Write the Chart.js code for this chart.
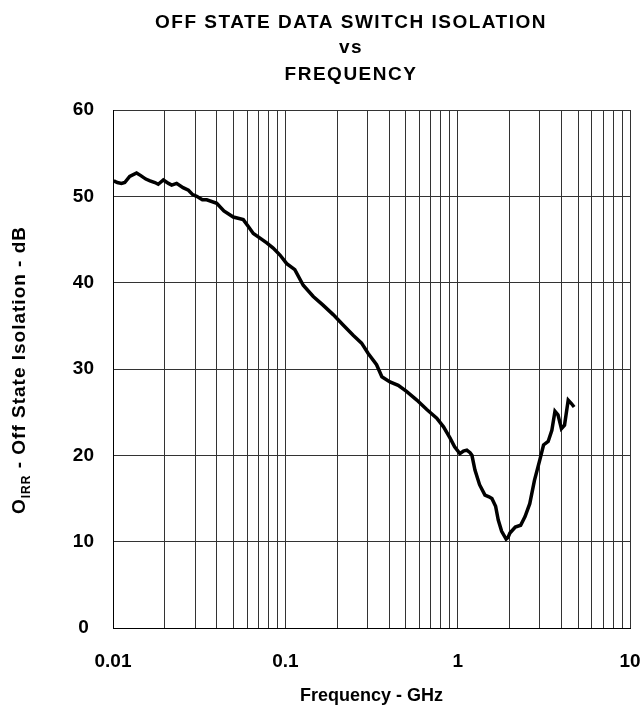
<!DOCTYPE html>
<html>
<head>
<meta charset="utf-8">
<title>Off State Data Switch Isolation vs Frequency</title>
<script src="https://cdn.jsdelivr.net/npm/chart.js@4.4.1/dist/chart.umd.min.js"></script>
<style>
    html, body { margin: 0; padding: 0; background: #ffffff; }
    #wrap { width: 642px; height: 710px; }
</style>
</head>
<body>
<div id="wrap"><canvas id="isoChart" width="642" height="710"></canvas></div>
<script>
(function () {
    'use strict';

    // ============================================================
    // DATA
    // ============================================================
    const freqGHz = [
        0.0101, 0.0106, 0.0112, 0.0117, 0.0125, 0.0137, 0.0145, 0.0155, 0.0164, 0.0175,
        0.0183, 0.0196, 0.0210, 0.0219, 0.0234, 0.0255, 0.0274, 0.0290, 0.0306, 0.0330,
        0.0350, 0.0400, 0.0440, 0.0499, 0.0570, 0.0610, 0.0652, 0.0720, 0.0780, 0.0850,
        0.0931, 0.1019, 0.1135, 0.127, 0.1452, 0.1655, 0.1895, 0.2165, 0.2475, 0.2770,
        0.3026, 0.3384, 0.3631, 0.4046, 0.4519, 0.5048, 0.5795, 0.6618, 0.7561, 0.8277,
        0.9038, 0.96, 1.03, 1.08, 1.13, 1.18, 1.21, 1.26, 1.34, 1.44,
        1.52, 1.58, 1.66, 1.72, 1.80, 1.91, 1.96, 2.01, 2.16, 2.32,
        2.46, 2.62, 2.79, 3.00, 3.15, 3.35, 3.52, 3.67, 3.82, 4.0,
        4.17, 4.38, 4.57, 4.74
    ];
    const isolationDb = [
        51.8, 51.6, 51.5, 51.6, 52.3, 52.7, 52.4, 52.0, 51.8, 51.6,
        51.4, 51.9, 51.5, 51.3, 51.5, 51.0, 50.7, 50.2, 50.0, 49.6,
        49.6, 49.2, 48.3, 47.6, 47.3, 46.5, 45.7, 45.1, 44.6, 44.0,
        43.2, 42.2, 41.5, 39.7, 38.4, 37.4, 36.3, 35.1, 33.9, 33.0,
        31.8, 30.5, 29.1, 28.5, 28.1, 27.4, 26.4, 25.3, 24.3, 23.3,
        22.0, 21.0, 20.2, 20.5, 20.6, 20.3, 20.0, 18.3, 16.6, 15.4,
        15.2, 15.0, 14.1, 12.5, 11.2, 10.3, 10.5, 11.0, 11.7, 11.9,
        12.9, 14.4, 17.1, 19.5, 21.2, 21.6, 22.9, 25.1, 24.7, 23.1,
        23.5, 26.4, 26.0, 25.6
    ];

    const xGridTicks = [
        0.01, 0.02, 0.03, 0.04, 0.05, 0.06, 0.07, 0.08, 0.09,
        0.1, 0.2, 0.3, 0.4, 0.5, 0.6, 0.7, 0.8, 0.9,
        1, 2, 3, 4, 5, 6, 7, 8, 9, 10
    ];
    const xTickLabels = { 0.01: '0.01', 0.1: '0.1', 1: '1', 10: '10' };
    const yTicks = [0, 10, 20, 30, 40, 50, 60];

    const titleLines = ['OFF STATE DATA SWITCH ISOLATION', 'vs', 'FREQUENCY'];
    const xTitle = 'Frequency - GHz';

    // ============================================================
    // STYLE
    // ============================================================
    const FONT = '"Liberation Sans", Arial, Helvetica, sans-serif';
    const GRID = '#333333';

    // ============================================================
    // PLUGIN: titles (incl. subscript on y label)
    // ============================================================
    const textPlugin = {
        id: 'textPlugin',
        afterDraw(chart) {
            const ctx = chart.ctx;
            const area = chart.chartArea;
            ctx.save();
            ctx.fillStyle = '#000';
            ctx.textAlign = 'center';
            ctx.textBaseline = 'alphabetic';

            // main title
            ctx.font = 'bold 19px ' + FONT;
            ctx.letterSpacing = '1.5px';
            const titleY = [28, 53, 80];
            titleLines.forEach((line, i) => ctx.fillText(line, 351, titleY[i]));

            // x axis title
            ctx.letterSpacing = '0px';
            ctx.font = 'bold 18px ' + FONT;
            ctx.fillText(xTitle, (area.left + area.right) / 2, 701);

            // y axis title: O + subscript IRR + rest
            ctx.letterSpacing = '1px';
            ctx.translate(25, 370);
            ctx.rotate(-Math.PI / 2);
            ctx.textAlign = 'left';
            const big = 'bold 19px ' + FONT;
            const small = 'bold 12px ' + FONT;
            ctx.font = big;
            const wO = ctx.measureText('O').width;
            const rest = ' - Off State Isolation - dB';
            const wRest = ctx.measureText(rest).width;
            ctx.font = small;
            const wSub = ctx.measureText('IRR').width;
            let x0 = -(wO + wSub + wRest) / 2;
            ctx.font = big;
            ctx.fillText('O', x0, 0);
            x0 += wO;
            ctx.font = small;
            ctx.fillText('IRR', x0, 5);
            x0 += wSub;
            ctx.font = big;
            ctx.fillText(rest, x0, 0);
            ctx.restore();
        }
    };

    // ============================================================
    // CHART
    // ============================================================
    const points = freqGHz.map((f, i) => ({ x: f, y: isolationDb[i] }));

    new Chart(document.getElementById('isoChart'), {
        type: 'line',
        data: {
            datasets: [{
                data: points,
                borderColor: '#000000',
                borderWidth: 3.5,
                pointRadius: 0,
                tension: 0,
                fill: false
            }]
        },
        options: {
            responsive: false,
            animation: false,
            layout: { padding: { top: 110, right: 12, left: 0, bottom: 0 } },
            plugins: {
                legend: { display: false },
                tooltip: { enabled: false },
                title: { display: false }
            },
            scales: {
                x: {
                    type: 'logarithmic',
                    min: 0.01,
                    max: 10,
                    afterBuildTicks: (scale) => {
                        scale.ticks = xGridTicks.map(v => ({ value: v }));
                    },
                    afterFit: (scale) => {
                        scale.height = 82;
                        scale.paddingLeft = 0;
                        scale.paddingRight = 0;
                    },
                    border: { display: true, color: '#000', width: 1 },
                    grid: { color: GRID, lineWidth: 1, drawTicks: false },
                    ticks: {
                        autoSkip: false,
                        maxRotation: 0,
                        padding: 22,
                        color: '#000',
                        font: { family: FONT, size: 19, weight: 'bold' },
                        callback: (v) => xTickLabels[v] || ''
                    }
                },
                y: {
                    type: 'linear',
                    min: 0,
                    max: 60,
                    afterBuildTicks: (scale) => {
                        scale.ticks = yTicks.map(v => ({ value: v }));
                    },
                    afterFit: (scale) => {
                        scale.width = 113;
                        scale.paddingTop = 0;
                        scale.paddingBottom = 0;
                    },
                    border: { display: true, color: '#000', width: 1 },
                    grid: { color: GRID, lineWidth: 1, drawTicks: false },
                    ticks: {
                        crossAlign: 'center',
                        padding: 19,
                        color: '#000',
                        font: { family: FONT, size: 19, weight: 'bold' }
                    }
                }
            }
        },
        plugins: [textPlugin]
    });
})();
</script>
</body>
</html>
